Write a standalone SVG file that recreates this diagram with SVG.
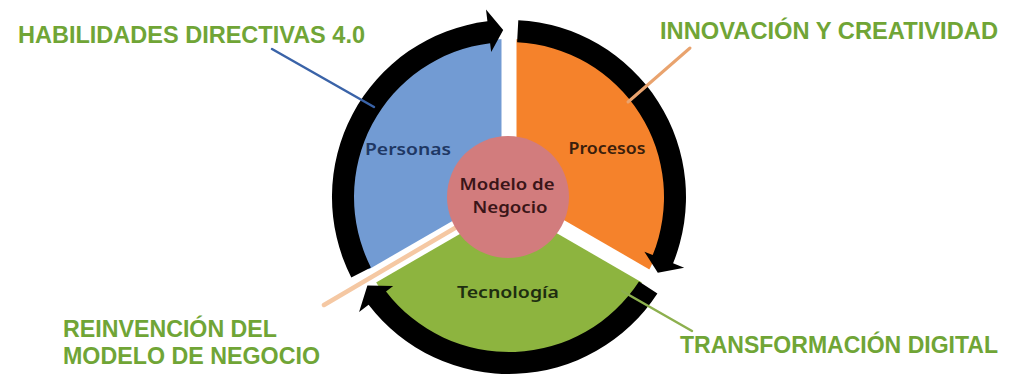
<svg xmlns="http://www.w3.org/2000/svg" width="1009" height="378" viewBox="0 0 1009 378">
<style>
.title{font-family:"Liberation Sans",Arial,sans-serif;font-weight:bold;font-size:23px;fill:#70A536;}
.inner{font-family:"Noto Sans","DejaVu Sans",sans-serif;font-size:16px;font-weight:600;text-anchor:middle;}
.ring{fill:#000000;}
.gap{stroke:#FFFFFF;stroke-width:15;stroke-linecap:butt;}
.lead{fill:none;stroke-linecap:round;}
</style>
<rect width="1009" height="378" fill="#FFFFFF"/>
<g id="sectors">
<path id="personas-sector" d="M509,197 L372.2,276 A158,158 0 0 1 509,39 Z" fill="#729BD3"/>
<path id="procesos-sector" d="M509,197 L509,39 A158,158 0 0 1 645.8,276 Z" fill="#F5822B"/>
<path id="tecnologia-sector" d="M509,197 L645.8,276 A158,158 0 0 1 372.2,276 Z" fill="#8DB43F"/>
<line class="gap" x1="509" y1="197" x2="509" y2="36"/>
<line class="gap" x1="509" y1="197" x2="650" y2="278.4"/>
<line class="gap" x1="509" y1="197" x2="368" y2="278.4"/>
</g>
<g id="ring">
<path id="arrow1" class="ring" d="M351.3,277.4 A177,177 0 0 1 487.4,21.3 L486,9.4 L503.2,30.1 L491.2,52.1 L490.1,43.2 A155,155 0 0 0 370.9,267.4 Z"/>
<path id="arrow2" class="ring" d="M518.3,20.2 A177,177 0 0 1 673.1,263.3 L684.2,267.8 L657.8,272.8 L644.4,251.7 L652.7,255.1 A155,155 0 0 0 517.1,42.2 Z"/>
<path id="arrow3" class="ring" d="M657.4,293.4 A177,177 0 0 1 368.6,304.8 L359.1,312.1 L367.4,285.5 L393.2,285.9 L386,291.4 A155,155 0 0 0 639,281.4 Z"/>
</g>
<g id="connectors">
<line class="lead" x1="272" y1="49" x2="374" y2="107" stroke="#3A63A8" stroke-width="2.5"/>
<line class="lead" x1="690" y1="48" x2="628" y2="102" stroke="#E9A36E" stroke-width="3"/>
<line class="lead" x1="622" y1="291" x2="692" y2="331" stroke="#8DB04E" stroke-width="2.5"/>
<line x1="325" y1="304" x2="455" y2="228" stroke="#FFFFFF" stroke-width="10"/>
<line class="lead" x1="324" y1="305" x2="455" y2="228" stroke="#F5C8A3" stroke-width="4.5"/>
</g>
<g id="center">
<circle cx="508" cy="197" r="61" fill="#D27C7D"/>
<text class="inner" x="507" y="190" fill="#3A1518" textLength="95" lengthAdjust="spacingAndGlyphs">Modelo de</text>
<text class="inner" x="510" y="213" fill="#3A1518" textLength="75" lengthAdjust="spacingAndGlyphs">Negocio</text>
</g>
<g id="personas">
<text class="inner" x="408" y="155" fill="#1F3864" textLength="86" lengthAdjust="spacingAndGlyphs">Personas</text>
</g>
<g id="procesos">
<text class="inner" x="607" y="154" fill="#3A1E0C" textLength="77" lengthAdjust="spacingAndGlyphs">Procesos</text>
</g>
<g id="tecnologia">
<text class="inner" x="508" y="298" fill="#1E2E10" textLength="102" lengthAdjust="spacingAndGlyphs">Tecnología</text>
</g>
<g id="label-habilidades">
<text class="title" x="18" y="43" textLength="347" lengthAdjust="spacingAndGlyphs">HABILIDADES DIRECTIVAS 4.0</text>
</g>
<g id="label-innovacion">
<text class="title" x="660" y="39" textLength="338" lengthAdjust="spacingAndGlyphs">INNOVACIÓN Y CREATIVIDAD</text>
</g>
<g id="label-reinvencion">
<text class="title" x="63" y="337" textLength="214" lengthAdjust="spacingAndGlyphs">REINVENCIÓN DEL</text>
<text class="title" x="63" y="364" textLength="257" lengthAdjust="spacingAndGlyphs">MODELO DE NEGOCIO</text>
</g>
<g id="label-transformacion">
<text class="title" x="680" y="353" textLength="318" lengthAdjust="spacingAndGlyphs">TRANSFORMACIÓN DIGITAL</text>
</g>
</svg>
